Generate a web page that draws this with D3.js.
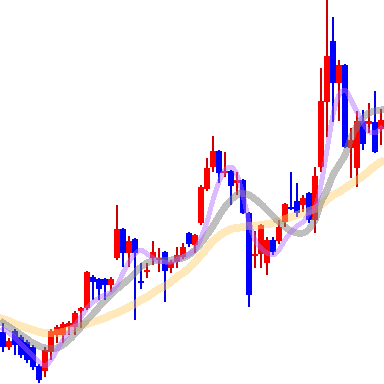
<!DOCTYPE html>
<html>
<head>
<meta charset="utf-8">
<script src="https://cdn.jsdelivr.net/npm/d3@7"></script>
<style>
  body { margin: 0; background: #fff; }
  svg { display: block; }
</style>
</head>
<body>
<svg id="myGraph" width="384" height="384"></svg>
<script>
// 日足 OHLC
var openData  = [2104,2074,2106,2094,2084,2074,2036,2026,2064,2098,2098,2114,2114,2146,2152,2214,2210,2210,2198,2252,
                 2310,2262,2290,2206,2224,2252,2248,2264,2232,2244,2254,2302,2278,2322,2390,2434,2466,2422,2426,2402,
                 2408,2342,2258,2260,2242,2288,2286,2324,2354,2366,2358,2382,2328,2434,2564,2686,2602,2638,2472,2432,
                 2526,2520,2524,2510];
var highData  = [2122,2092,2110,2098,2088,2078,2040,2074,2110,2118,2124,2126,2146,2154,2226,2218,2212,2212,2214,2358,
                 2312,2296,2292,2242,2242,2286,2272,2266,2248,2274,2282,2304,2300,2398,2452,2496,2468,2464,2428,2424,
                 2410,2344,2306,2320,2294,2294,2328,2362,2424,2402,2378,2384,2434,2632,2768,2734,2648,2640,2512,2546,
                 2548,2562,2586,2550];
var lowData   = [2064,2068,2058,2052,2042,2028,2002,2014,2048,2082,2082,2098,2098,2112,2148,2168,2168,2168,2184,2248,
                 2234,2234,2128,2190,2212,2238,2224,2164,2222,2232,2250,2274,2262,2318,2386,2424,2402,2414,2358,2378,
                 2340,2154,2232,2232,2218,2258,2280,2314,2348,2334,2344,2322,2302,2424,2494,2524,2526,2472,2412,2394,
                 2468,2502,2462,2478];
var closeData = [2074,2086,2078,2058,2048,2034,2008,2068,2106,2114,2120,2122,2142,2152,2224,2204,2190,2198,2210,2310,
                 2262,2286,2262,2202,2228,2264,2252,2226,2244,2258,2274,2280,2298,2394,2432,2466,2422,2426,2396,2408,
                 2342,2178,2260,2318,2288,2264,2314,2360,2350,2342,2372,2328,2416,2566,2656,2602,2638,2474,2488,2526,
                 2480,2526,2464,2528];

// 移動平均線 (短期・中期・長期)
var maShort = [2110,2102,2092,2080,2068,2056,2044,2036,2048,2068,2088,2104,2118,2134,2152,2164,2172,2178,2184,2198,
               2222,2244,2260,2268,2260,2252,2246,2244,2244,2248,2254,2260,2268,2292,2324,2368,2404,2428,2434,2418,
               2378,2324,2288,2272,2262,2258,2268,2288,2304,2316,2324,2340,2352,2398,2468,2538,2578,2588,2568,2544,
               2524,2504,2502,2512];
var maMid   = [2122,2114,2106,2098,2090,2082,2076,2072,2070,2072,2078,2088,2100,2114,2128,2140,2154,2166,2178,2190,
               2200,2210,2222,2234,2242,2246,2248,2248,2248,2250,2252,2258,2268,2282,2298,2316,2336,2354,2368,2378,
               2382,2378,2370,2360,2348,2336,2324,2314,2306,2302,2302,2310,2328,2364,2388,2418,2438,2458,2492,2516,
               2532,2542,2546,2548];
var maLong  = [2130,2126,2120,2116,2112,2108,2104,2102,2102,2102,2104,2108,2112,2116,2120,2124,2128,2132,2138,2142,
               2148,2154,2160,2168,2174,2182,2190,2196,2204,2214,2222,2232,2244,2258,2272,2286,2296,2304,2310,2312,
               2314,2316,2316,2318,2320,2322,2326,2330,2334,2338,2342,2346,2350,2358,2368,2378,2384,2392,2400,2408,
               2416,2426,2436,2444];

var width = 384, height = 384;
var candles = openData.map(function(d, i) {
    return { i: i, o: d, h: highData[i], l: lowData[i], c: closeData[i] };
});

var x = d3.scaleBand()
    .domain(d3.range(candles.length))
    .range([0, width])
    .paddingInner(0.1)
    .paddingOuter(0.05);

var y = d3.scaleLinear()
    .domain([2000, 2768])
    .range([height, 0]);

var svg = d3.select("#myGraph");
var bw = x.bandwidth();

var g = svg.append("g").attr("shape-rendering", "crispEdges");

// ヒゲ
g.selectAll("rect.wick")
    .data(candles)
    .enter()
    .append("rect")
    .attr("class", "wick")
    .attr("x", function(d) { return x(d.i) + bw / 2 - 1; })
    .attr("width", 2)
    .attr("y", function(d) { return y(d.h); })
    .attr("height", function(d) { return Math.max(1, y(d.l) - y(d.h)); })
    .style("fill", function(d) { return d.c >= d.o ? "#cc0000" : "#0000ee"; });

// 実体
g.selectAll("rect.body")
    .data(candles)
    .enter()
    .append("rect")
    .attr("class", "body")
    .attr("x", function(d) { return x(d.i); })
    .attr("width", bw)
    .attr("y", function(d) { return y(Math.max(d.o, d.c)); })
    .attr("height", function(d) { return Math.max(2, Math.abs(y(d.o) - y(d.c))); })
    .style("fill", function(d) { return d.c >= d.o ? "#ff0000" : "#0000ff"; });

var line = d3.line()
    .x(function(d, i) { return x(i) + bw / 2; })
    .y(function(d) { return y(d); })
    .curve(d3.curveMonotoneX);

var maList = [
    { data: maLong,  color: "#ffcc66", op: 0.45, w: 8 },
    { data: maMid,   color: "#808080", op: 0.5,  w: 7 },
    { data: maShort, color: "#b266ff", op: 0.45, w: 5 }
];

svg.selectAll("path.ma")
    .data(maList)
    .enter()
    .append("path")
    .attr("class", "ma")
    .attr("d", function(d) { return line(d.data); })
    .attr("shape-rendering", "crispEdges")
    .style("fill", "none")
    .style("stroke", function(d) { return d.color; })
    .style("stroke-opacity", function(d) { return d.op; })
    .style("stroke-width", function(d) { return d.w; })
    .style("stroke-linecap", "square");
</script>
</body>
</html>
